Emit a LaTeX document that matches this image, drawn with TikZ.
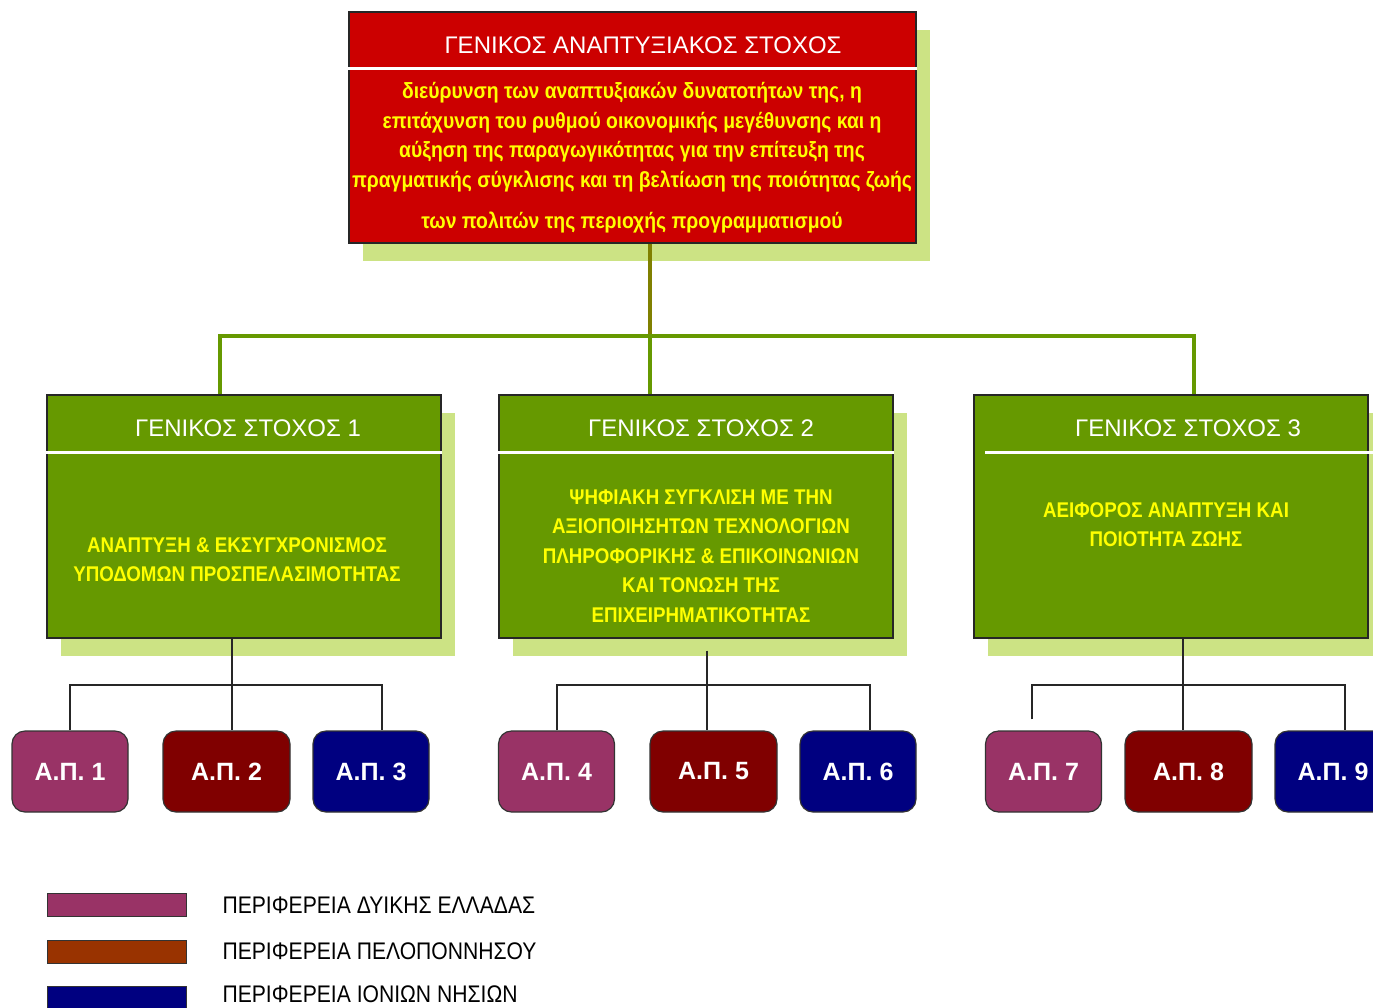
\documentclass[tikz,border=0pt]{standalone}
\usepackage{fontspec}
\setmainfont{Liberation Sans}
\newfontfamily\condfont[FakeStretch=0.88]{Liberation Sans}
\usetikzlibrary{shadows}
\definecolor{goalred}{HTML}{CC0000}
\definecolor{goalgreen}{HTML}{669900}
\definecolor{shadegreen}{HTML}{CCE384}
\definecolor{stemolive}{HTML}{808000}
\definecolor{dytiki}{HTML}{993366}
\definecolor{pelop}{HTML}{800000}
\definecolor{pelopkey}{HTML}{993300}
\definecolor{ionio}{HTML}{000080}
\definecolor{goalyellow}{HTML}{FFFF00}
\tikzset{
  goalbox/.style={draw=black!85,line width=1.2pt,inner sep=0pt,
    general shadow={fill=shadegreen,shadow xshift=14pt,shadow yshift=-18pt}},
  redbox/.style={goalbox,fill=goalred,minimum width=567pt,minimum height=231pt},
  greenbox/.style={goalbox,fill=goalgreen,minimum width=394pt,minimum height=243pt},
  sepline/.style={white,line width=3pt},
  headtext/.style={text=white,font=\fontsize{24}{28}\selectfont},
  bodytext/.style={text=goalyellow,align=center,font=\condfont\bfseries\fontsize{22}{29.5}\selectfont},
  capstext/.style={bodytext,font=\condfont\bfseries\fontsize{21.3}{29.5}\selectfont},
  apbox/.style={draw=black!80,line width=1.2pt,rounded corners=13pt,minimum width=116pt,
    minimum height=81pt,text=white,font=\bfseries\fontsize{25}{28}\selectfont},
  keybox/.style={draw=black!80,line width=1pt,minimum width=139pt,minimum height=23pt,inner sep=0pt},
  keytext/.style={anchor=west,font=\condfont\fontsize{24}{28}\selectfont},
  stem/.style={stemolive,line width=4pt},
  branch/.style={goalgreen,line width=4pt,line join=miter},
  feed/.style={black!85,line width=1.3pt}
}
\begin{document}
\begin{tikzpicture}[x=1pt,y=-1pt]
  \useasboundingbox[fill=white] (0,0) rectangle (1373,1007);
  % general development goal
  \node[redbox] (top) at (632.5,127.5) {};
  \draw[sepline] ([yshift=-57pt]top.north west) -- ([yshift=-57pt]top.north east);
  \node[headtext] (toph) at (643,45) {ΓΕΝΙΚΟΣ ΑΝΑΠΤΥΞΙΑΚΟΣ ΣΤΟΧΟΣ};
  \node[bodytext] (topb) at (632,158) {διεύρυνση των αναπτυξιακών δυνατοτήτων της, η\\
    επιτάχυνση του ρυθμού οικονομικής μεγέθυνσης και η\\
    αύξηση της παραγωγικότητας για την επίτευξη της\\
    πραγματικής σύγκλισης και τη βελτίωση της ποιότητας ζωής\\[12pt]
    των πολιτών της περιοχής προγραμματισμού};
  % general goals
  \node[greenbox] (g1) at (244,516.5) {};
  \node[greenbox] (g2) at (696,516.5) {};
  \node[greenbox] (g3) at (1171,516.5) {};
  \draw[sepline] ([yshift=-58pt]g1.north west) -- ([yshift=-58pt]g1.north east);
  \draw[sepline] ([yshift=-58pt]g2.north west) -- ([yshift=-58pt]g2.north east);
  \draw[sepline] ([xshift=12pt,yshift=-58pt]g3.north west) -- ([xshift=6pt,yshift=-58pt]g3.north east);
  \node[headtext] (g1h) at (248,428) {ΓΕΝΙΚΟΣ ΣΤΟΧΟΣ 1};
  \node[headtext] (g2h) at (701,428) {ΓΕΝΙΚΟΣ ΣΤΟΧΟΣ 2};
  \node[headtext] (g3h) at (1188,428) {ΓΕΝΙΚΟΣ ΣΤΟΧΟΣ 3};
  \node[capstext] (g1b) at (237,559.5) {ΑΝΑΠΤΥΞΗ \& ΕΚΣΥΓΧΡΟΝΙΣΜΟΣ\\ΥΠΟΔΟΜΩΝ ΠΡΟΣΠΕΛΑΣΙΜΟΤΗΤΑΣ};
  \node[capstext] (g2b) at (701,556) {ΨΗΦΙΑΚΗ ΣΥΓΚΛΙΣΗ ΜΕ ΤΗΝ\\ΑΞΙΟΠΟΙΗΣΗΤΩΝ ΤΕΧΝΟΛΟΓΙΩΝ\\
    ΠΛΗΡΟΦΟΡΙΚΗΣ \& ΕΠΙΚΟΙΝΩΝΙΩΝ\\ΚΑΙ ΤΟΝΩΣΗ ΤΗΣ\\ΕΠΙΧΕΙΡΗΜΑΤΙΚΟΤΗΤΑΣ};
  \node[capstext] (g3b) at (1166,524.5) {ΑΕΙΦΟΡΟΣ ΑΝΑΠΤΥΞΗ ΚΑΙ\\ΠΟΙΟΤΗΤΑ ΖΩΗΣ};
  % green links
  \coordinate (hub) at (650,336);
  \coordinate (hl) at (220,336);
  \coordinate (hr) at (1194,336);
  \draw[stem] (top.south -| hub) -- (hub);
  \draw[branch] (g1.north -| hl) -- (hl) -- (hr) -- (g3.north -| hr);
  \draw[branch] (hub) -- (g2.north -| hub);
  % priority axes
  \node[apbox,fill=dytiki] (ap1) at (70,771.5) {Α.Π. 1};
  \node[apbox,fill=pelop,minimum width=127pt] (ap2) at (226.5,771.5) {Α.Π. 2};
  \node[apbox,fill=ionio] (ap3) at (371,771.5) {Α.Π. 3};
  \node[apbox,fill=dytiki] (ap4) at (556.5,771.5) {Α.Π. 4};
  \node[apbox,fill=pelop,minimum width=127pt] (ap5) at (713.5,771.5) {Α.Π. 5};
  \node[apbox,fill=ionio] (ap6) at (858,771.5) {Α.Π. 6};
  \node[apbox,fill=dytiki] (ap7) at (1043.5,771.5) {Α.Π. 7};
  \node[apbox,fill=pelop,minimum width=127pt] (ap8) at (1188.5,771.5) {Α.Π. 8};
  \node[apbox,fill=ionio] (ap9) at (1333,771.5) {Α.Π. 9};
  % black links
  \coordinate (b1) at (232,685);
  \coordinate (b1l) at (70,685);
  \coordinate (b1r) at (382,685);
  \draw[feed] (g1.south -| b1) -- (ap2.north -| b1);
  \draw[feed] (ap1.north -| b1l) |- (b1r) -- (ap3.north -| b1r);
  \coordinate (b2) at (707,685);
  \coordinate (b2l) at (557,685);
  \coordinate (b2r) at (870,685);
  \draw[feed] ([yshift=-12pt]g2.south -| b2) -- (ap5.north -| b2);
  \draw[feed] (ap4.north -| b2l) |- (b2r) -- (ap6.north -| b2r);
  \coordinate (b3) at (1183,685);
  \coordinate (b3l) at (1032,685);
  \coordinate (b3r) at (1345,685);
  \draw[feed] (g3.south -| b3) -- (ap8.north -| b3);
  \draw[feed] ([yshift=11pt]ap7.north -| b3l) |- (b3r) -- (ap9.north -| b3r);
  % legend
  \node[keybox,fill=dytiki] (k1) at (116.5,904.5) {};
  \node[keybox,fill=pelopkey] (k2) at (116.5,951.5) {};
  \node[keybox,fill=ionio] (k3) at (116.5,997.5) {};
  \node[keytext] (k1t) at (219,905) {ΠΕΡΙΦΕΡΕΙΑ ΔΥΙΚΗΣ ΕΛΛΑΔΑΣ};
  \node[keytext] (k2t) at (219,951) {ΠΕΡΙΦΕΡΕΙΑ ΠΕΛΟΠΟΝΝΗΣΟΥ};
  \node[keytext] (k3t) at (219,994) {ΠΕΡΙΦΕΡΕΙΑ ΙΟΝΙΩΝ ΝΗΣΙΩΝ};
\end{tikzpicture}
\end{document}
